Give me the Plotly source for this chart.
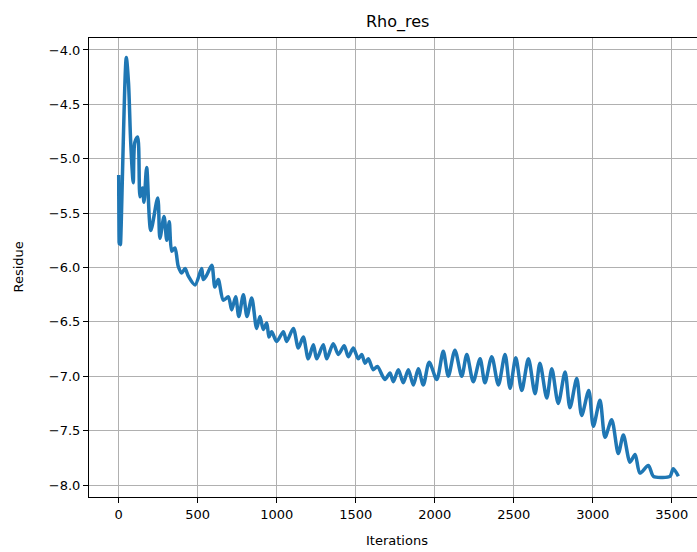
import plotly.graph_objects as go

# Residual history of the density equation (log10 scale), sampled at its turning points
iterations = [
    0, 3, 7, 11, 48, 62, 76, 92, 102, 120, 135, 150, 160, 177, 203, 247, 261, 287,
    304, 320, 336, 356, 377, 399, 420, 441, 483, 525, 535, 557, 589, 609, 630, 662,
    694, 715, 740, 760, 789, 812, 842, 873, 894, 915, 937, 951, 968, 1000, 1042,
    1063, 1105, 1137, 1168, 1200, 1232, 1253, 1295, 1316, 1358, 1390, 1427, 1453,
    1485, 1516, 1538, 1559, 1580, 1611, 1637, 1685, 1717, 1738, 1770, 1801, 1833,
    1865, 1896, 1928, 1965, 2013, 2054, 2086, 2128, 2171, 2203, 2244, 2287, 2318,
    2361, 2403, 2445, 2477, 2513, 2551, 2593, 2635, 2666, 2709, 2741, 2782, 2825,
    2856, 2899, 2930, 2975, 3004, 3046, 3078, 3120, 3162, 3194, 3236, 3268, 3299,
    3352, 3384, 3440, 3489, 3510, 3542,
]
residue = [
    -5.15, -5.78, -5.45, -5.79, -4.07, -4.30, -4.85, -5.22, -4.85, -4.80, -5.35,
    -5.27, -5.40, -5.08, -5.66, -5.36, -5.73, -5.53, -5.75, -5.58, -5.85, -5.82,
    -5.99, -6.05, -6.01, -6.08, -6.16, -6.01, -6.11, -6.07, -5.98, -6.18, -6.11,
    -6.30, -6.27, -6.39, -6.27, -6.45, -6.25, -6.45, -6.28, -6.56, -6.45, -6.57,
    -6.51, -6.64, -6.59, -6.68, -6.59, -6.68, -6.56, -6.74, -6.64, -6.84, -6.71,
    -6.84, -6.71, -6.84, -6.70, -6.80, -6.72, -6.82, -6.74, -6.84, -6.80, -6.88,
    -6.84, -6.94, -6.91, -7.03, -6.97, -7.05, -6.94, -7.06, -6.94, -7.08, -6.93,
    -7.08, -6.87, -7.03, -6.77, -7.00, -6.76, -7.00, -6.80, -7.05, -6.84, -7.06,
    -6.82, -7.08, -6.80, -7.11, -6.83, -7.13, -6.84, -7.16, -6.88, -7.20, -6.93,
    -7.25, -6.96, -7.29, -7.02, -7.36, -7.13, -7.46, -7.22, -7.56, -7.40, -7.71,
    -7.54, -7.79, -7.72, -7.89, -7.82, -7.92, -7.93, -7.92, -7.85, -7.92,
]

x_ticks = [0, 500, 1000, 1500, 2000, 2500, 3000, 3500]
y_ticks = [-8.0, -7.5, -7.0, -6.5, -6.0, -5.5, -5.0, -4.5, -4.0]

FONT = "DejaVu Sans"

fig = go.Figure()
fig.add_trace(go.Scatter(
    x=iterations,
    y=residue,
    mode="lines",
    line=dict(color="#1f77b4", width=3.5, shape="spline", smoothing=0.8),
    showlegend=False,
))

axis_common = dict(
    showgrid=True,
    gridcolor="#b0b0b0",
    gridwidth=1,
    zeroline=False,
    showline=True,
    linecolor="black",
    linewidth=1,
    ticks="outside",
    ticklen=5,
    tickwidth=1,
    tickcolor="black",
    tickfont=dict(family=FONT, size=13, color="black"),
)

fig.update_xaxes(
    range=[-188, 3660],
    tickvals=x_ticks,
    ticktext=[str(v) for v in x_ticks],
    mirror=True,
    **axis_common,
)
fig.update_yaxes(
    range=[-8.11, -3.89],
    tickvals=y_ticks,
    ticktext=["\u2212{:.1f}".format(-v) for v in y_ticks],
    **axis_common,
)

fig.update_layout(
    width=697,
    height=552,
    margin=dict(l=89, r=0, t=38, b=55),
    paper_bgcolor="white",
    plot_bgcolor="white",
    font=dict(family=FONT, size=13, color="black"),
    annotations=[
        dict(text="Rho_res", xref="paper", yref="paper", x=0.5066, y=1.0,
             yshift=4, xanchor="center", yanchor="bottom", showarrow=False,
             font=dict(family=FONT, size=16, color="black")),
        dict(text="Iterations", xref="paper", yref="paper", x=0.5066, y=0,
             yshift=-34, xanchor="center", yanchor="top", showarrow=False,
             font=dict(family=FONT, size=13, color="black")),
        dict(text="Residue", xref="paper", yref="paper", x=0, y=0.5,
             xshift=-71, xanchor="center", yanchor="middle", showarrow=False,
             textangle=-90, font=dict(family=FONT, size=13, color="black")),
    ],
)

fig.write_html("out.html")
